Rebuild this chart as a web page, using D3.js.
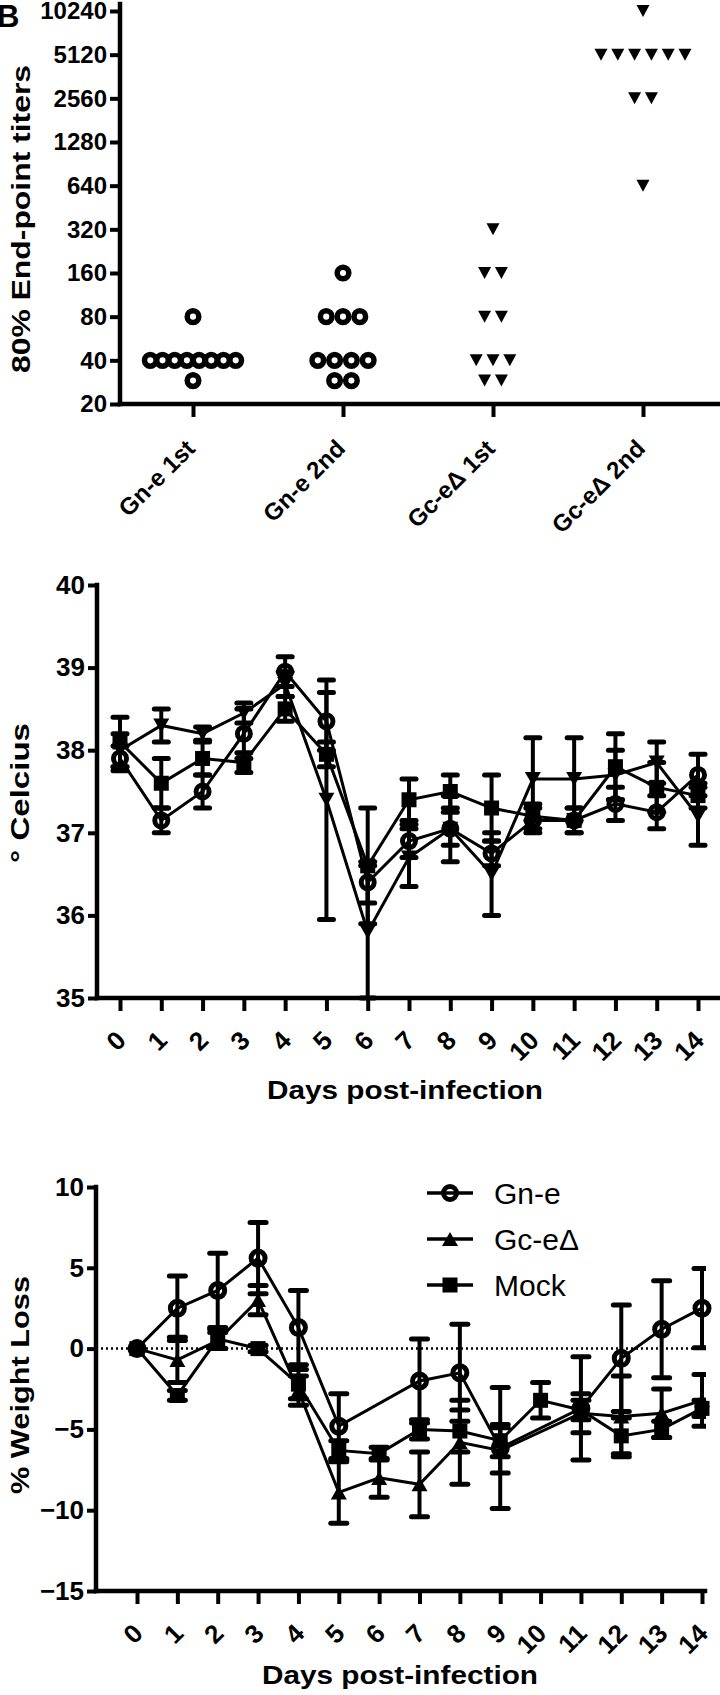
<!DOCTYPE html>
<html>
<head>
<meta charset="utf-8">
<script src="https://cdn.jsdelivr.net/npm/d3@7"></script>
<style>
    body { margin: 0; background: #fff; }
    svg text { font-family: "Liberation Sans", Arial, sans-serif; font-weight: bold; fill: #000; }
</style>
</head>
<body>
<div id="chart"></div>
<script>
// ---- panel 1: end-point titers (one value per animal) ----
const titerCats = ['Gn-e 1st', 'Gn-e 2nd', 'Gc-e\u0394 1st', 'Gc-e\u0394 2nd'];
const titerGnE1 = [80, 40, 40, 40, 40, 40, 40, 40, 40, 29];
const titerGnE2 = [160, 80, 80, 80, 40, 40, 40, 40, 29, 29];
const titerGcE1 = [320, 160, 160, 80, 80, 40, 40, 40, 29, 29];
const titerGcE2 = [10240, 5120, 5120, 5120, 5120, 5120, 5120, 2560, 2560, 640];
const titerTicks = [20, 40, 80, 160, 320, 640, 1280, 2560, 5120, 10240];

// ---- panel 2: body temperature, mean and SEM ----
const days = [0, 1, 2, 3, 4, 5, 6, 7, 8, 9, 10, 11, 12, 13, 14];
const tempGnE = [37.9, 37.15, 37.5, 38.2, 38.95, 38.35, 36.4, 36.9, 37.05, 36.75, 37.15, 37.15, 37.35, 37.25, 37.7];
const tempGnESem = [0.15, 0.15, 0.2, 0.3, 0.18, 0.35, 0.25, 0.2, 0.2, 0.15, 0.15, 0.15, 0.2, 0.2, 0.25];
const tempGcE = [38.0, 38.3, 38.2, 38.45, 38.8, 37.4, 35.8, 36.7, 37.05, 36.5, 37.65, 37.65, 37.7, 37.85, 37.2];
const tempGcESem = [0.2, 0.2, 0.08, 0.12, 0.15, 1.45, 0.8, 0.35, 0.4, 0.5, 0.5, 0.5, 0.3, 0.25, 0.35];
const tempMock = [38.1, 37.6, 37.9, 37.85, 38.5, 37.95, 36.6, 37.4, 37.5, 37.3, 37.2, 37.15, 37.8, 37.55, 37.45];
const tempMockSem = [0.3, 0.3, 0.2, 0.12, 0.15, 0.15, 0.7, 0.25, 0.2, 0.4, 0.15, 0.15, 0.4, 0.3, 0.15];
const tempTicks = [35, 36, 37, 38, 39, 40];

// ---- panel 3: % weight loss, mean and SEM (null = not plotted) ----
const wtGnE = [0, 2.5, 3.6, 5.6, 1.3, -4.8, null, -2.0, -1.5, -6.15, null, -3.7, -0.6, 1.2, 2.5];
const wtGnESem = [0, 2.0, 2.3, 2.2, 2.3, 2.0, null, 2.6, 3.0, 3.75, null, 3.2, 3.3, 3.0, 2.45];
const wtGcE = [0, -0.7, 0.5, 3.0, -2.6, -8.9, -8.0, -8.4, -5.8, -6.3, null, -4.0, -4.2, -4.0, -3.2];
const wtGcESem = [0, 1.4, 0.5, 0.9, 0.9, 1.9, 1.2, 2.0, 2.6, 1.4, null, 1.2, 2.5, 1.5, 1.6];
const wtMock = [0, -2.9, 0.6, 0.0, -2.2, -6.3, -6.5, -5.0, -5.1, -5.7, -3.2, -3.8, -5.4, -5.0, -3.7];
const wtMockSem = [0, 0.3, 0.6, 0.2, 0.9, 0.6, 0.4, 0.6, 1.3, 1.0, 1.1, 0.6, 1.1, 0.5, 0.5];
const wtTicks = [-15, -10, -5, 0, 5, 10];
const legendNames = ['Gn-e', 'Gc-e\u0394', 'Mock'];

const W = 720, H = 1695;
const svg = d3.select('#chart').append('svg')
    .attr('width', W)
    .attr('height', H);

// marker shapes
function triDown(w, h) { return `M${-w / 2},${-h / 2}L${w / 2},${-h / 2}L0,${h / 2}Z`; }
function triUp(w, h) { return `M${-w / 2},${h / 2}L${w / 2},${h / 2}L0,${-h / 2}Z`; }

function drawMarker(g, kind, cx, cy, s) {
    if (kind === 'circle') {
        g.append('circle').attr('cx', cx).attr('cy', cy).attr('r', s.r)
            .attr('fill', 'none').attr('stroke', '#000').attr('stroke-width', s.sw);
    } else if (kind === 'square') {
        g.append('rect').attr('x', cx - s.sq / 2).attr('y', cy - s.sq / 2)
            .attr('width', s.sq).attr('height', s.sq).attr('fill', '#000');
    } else {
        const p = kind === 'down' ? triDown(s.tw, s.th) : triUp(s.tw, s.th);
        g.append('path').attr('d', p).attr('transform', `translate(${cx},${cy})`).attr('fill', '#000');
    }
}

function styleAxis(g, fs) {
    g.select('.domain').remove();
    g.selectAll('.tick line').attr('stroke', '#000').attr('stroke-width', 4);
    g.selectAll('.tick text').style('font-size', fs + 'px').attr('fill', '#000');
}

function axisLine(x1, y1, x2, y2) {
    svg.append('line')
        .attr('x1', x1).attr('y1', y1).attr('x2', x2).attr('y2', y2)
        .attr('stroke', '#000').attr('stroke-width', 4.5).attr('stroke-linecap', 'square');
}

function yTitle(label, x, yMid, len) {
    svg.append('text')
        .attr('transform', `translate(${x},${yMid}) rotate(-90)`)
        .attr('text-anchor', 'middle')
        .attr('textLength', len)
        .attr('lengthAdjust', 'spacingAndGlyphs')
        .style('font-size', '26px')
        .text(label);
}

function xTitle(label, xMid, y, len) {
    svg.append('text')
        .attr('x', xMid).attr('y', y)
        .attr('text-anchor', 'middle')
        .attr('textLength', len)
        .attr('lengthAdjust', 'spacingAndGlyphs')
        .style('font-size', '26px')
        .text(label);
}

// panel letter (cropped in the original)
svg.append('text').attr('x', -3).attr('y', 27).style('font-size', '31px').text('B');

/* ---------- panel 1 ---------- */
const p1 = {left: 120, right: 718, top: 11, bottom: 404};
const y1 = d3.scaleLog().base(2).domain([20, 10240]).range([p1.bottom, p1.top]);
const x1 = d3.scalePoint().domain(titerCats).range([118, 718]).padding(0.5);

const y1Axis = svg.append('g')
    .attr('transform', `translate(${p1.left},0)`)
    .call(d3.axisLeft(y1).tickValues(titerTicks).tickFormat(d3.format('d')).tickSize(10).tickPadding(3));
styleAxis(y1Axis, 24);

const x1Axis = svg.append('g')
    .attr('transform', `translate(0,${p1.bottom})`)
    .call(d3.axisBottom(x1).tickSize(13));
styleAxis(x1Axis, 24);
x1Axis.selectAll('.tick text')
    .attr('x', 0).attr('y', 0).attr('dy', 0)
    .attr('text-anchor', 'end')
    .attr('transform', 'translate(3,46) rotate(-45)');

axisLine(p1.left, 4, p1.left, p1.bottom);
axisLine(p1.left, p1.bottom, p1.right, p1.bottom);

yTitle('80% End-point titers', 30, 219, 308);

const titerGroups = [
    {cat: titerCats[0], vals: titerGnE1, kind: 'circle'},
    {cat: titerCats[1], vals: titerGnE2, kind: 'circle'},
    {cat: titerCats[2], vals: titerGcE1, kind: 'down'},
    {cat: titerCats[3], vals: titerGcE2, kind: 'down'}
];
const p1Marks = svg.append('g');
const p1Style = {r: 5.8, sw: 5.5, tw: 13, th: 12, sq: 12};
titerGroups.forEach(gr => {
    const rows = d3.group(gr.vals, v => v);
    rows.forEach((list, v) => {
        const n = list.length;
        const step = n > 6 ? 12.2 : 16.8;
        list.forEach((_, i) => {
            const cx = x1(gr.cat) + (i - (n - 1) / 2) * step;
            drawMarker(p1Marks, gr.kind, cx, y1(v), p1Style);
        });
    });
});

/* ---------- shared for panels 2 and 3 ---------- */
function seriesPanel(cfg) {
    const x = d3.scaleLinear().domain([0, 14]).range([cfg.day0, cfg.day14]);
    const y = d3.scaleLinear().domain(cfg.domain).range([cfg.bottom, cfg.top]);

    const yAx = svg.append('g')
        .attr('transform', `translate(${cfg.left},0)`)
        .call(d3.axisLeft(y).tickValues(cfg.ticks).tickFormat(d3.format('d')).tickSize(9).tickPadding(3));
    styleAxis(yAx, 26);

    const xAx = svg.append('g')
        .attr('transform', `translate(0,${cfg.bottom})`)
        .call(d3.axisBottom(x).tickValues(days).tickFormat(d3.format('d')).tickSize(13));
    styleAxis(xAx, 26);
    xAx.selectAll('.tick text')
        .attr('x', 0).attr('y', 0).attr('dy', 0)
        .attr('text-anchor', 'end')
        .attr('transform', 'translate(7,44) rotate(-45)');

    if (cfg.zeroLine) {
        svg.append('line')
            .attr('x1', cfg.left).attr('x2', cfg.right)
            .attr('y1', y(0)).attr('y2', y(0))
            .attr('stroke', '#000').attr('stroke-width', 2.5)
            .attr('stroke-dasharray', '2 3');
    }

    axisLine(cfg.left, cfg.top, cfg.left, cfg.bottom);
    axisLine(cfg.left, cfg.bottom, cfg.right, cfg.bottom);

    const clipId = 'clip' + cfg.top;
    svg.append('clipPath').attr('id', clipId)
        .append('rect').attr('x', cfg.left).attr('y', 0)
        .attr('width', cfg.clipRight - cfg.left).attr('height', H);

    const line = d3.line().x(d => x(d.day)).y(d => y(d.v));
    const data = cfg.series.map(s => ({
        kind: s.kind,
        pts: days.map((d, i) => ({day: d, v: s.vals[i], e: s.sem[i]})).filter(p => p.v !== null)
    }));

    const gLines = svg.append('g');
    data.forEach(s => {
        gLines.append('path').attr('d', line(s.pts))
            .attr('fill', 'none').attr('stroke', '#000').attr('stroke-width', 3);
    });

    const gBars = svg.append('g').attr('clip-path', `url(#${clipId})`);
    data.forEach(s => {
        s.pts.filter(p => p.e > 0).forEach(p => {
            const cx = x(p.day), ya = y(p.v + p.e), yb = y(p.v - p.e);
            gBars.append('line').attr('x1', cx).attr('x2', cx).attr('y1', ya).attr('y2', yb)
                .attr('stroke', '#000').attr('stroke-width', 4);
            [ya, yb].forEach(yy => {
                gBars.append('line')
                    .attr('x1', cx - cfg.capW / 2 + 2).attr('x2', cx + cfg.capW / 2 - 2)
                    .attr('y1', yy).attr('y2', yy)
                    .attr('stroke', '#000').attr('stroke-width', 5).attr('stroke-linecap', 'round');
            });
        });
    });

    const gMarks = svg.append('g');
    data.forEach(s => {
        s.pts.forEach(p => drawMarker(gMarks, s.kind, x(p.day), y(p.v), cfg.marker));
    });
}

/* ---------- panel 2 ---------- */
seriesPanel({
    left: 97, right: 718, clipRight: 740, top: 585, bottom: 998,
    day0: 120, day14: 698, domain: [35, 40], ticks: tempTicks, capW: 18,
    marker: {r: 6.5, sw: 5, tw: 16, th: 14, sq: 15},
    series: [
        {vals: tempGnE, sem: tempGnESem, kind: 'circle'},
        {vals: tempGcE, sem: tempGcESem, kind: 'down'},
        {vals: tempMock, sem: tempMockSem, kind: 'square'}
    ]
});
yTitle('\u00b0 Celcius', 29, 793, 140);
xTitle('Days post-infection', 405, 1099, 276);

/* ---------- panel 3 ---------- */
seriesPanel({
    left: 96, right: 705, clipRight: 706, top: 1187, bottom: 1591,
    day0: 137, day14: 702, domain: [-15, 10], ticks: wtTicks, capW: 20, zeroLine: true,
    marker: {r: 7, sw: 5, tw: 16, th: 14, sq: 15},
    series: [
        {vals: wtGnE, sem: wtGnESem, kind: 'circle'},
        {vals: wtGcE, sem: wtGcESem, kind: 'up'},
        {vals: wtMock, sem: wtMockSem, kind: 'square'}
    ]
});
yTitle('% Weight Loss', 29, 1385, 218);
xTitle('Days post-infection', 400, 1684, 276);

// legend
const legendKinds = ['circle', 'up', 'square'];
const legend = svg.append('g').attr('transform', 'translate(427,1193)');
legendNames.forEach((name, i) => {
    const row = legend.append('g').attr('transform', `translate(0,${i * 46})`);
    row.append('line').attr('x1', 0).attr('x2', 46).attr('y1', 0).attr('y2', 0)
        .attr('stroke', '#000').attr('stroke-width', 3.5);
    drawMarker(row, legendKinds[i], 23, 0, {r: 6.5, sw: 5, tw: 16, th: 14, sq: 15});
    row.append('text').attr('x', 67).attr('y', 0).attr('dy', '0.36em')
        .style('font-size', '30px').style('font-weight', 'normal')
        .text(name);
});
</script>
</body>
</html>
